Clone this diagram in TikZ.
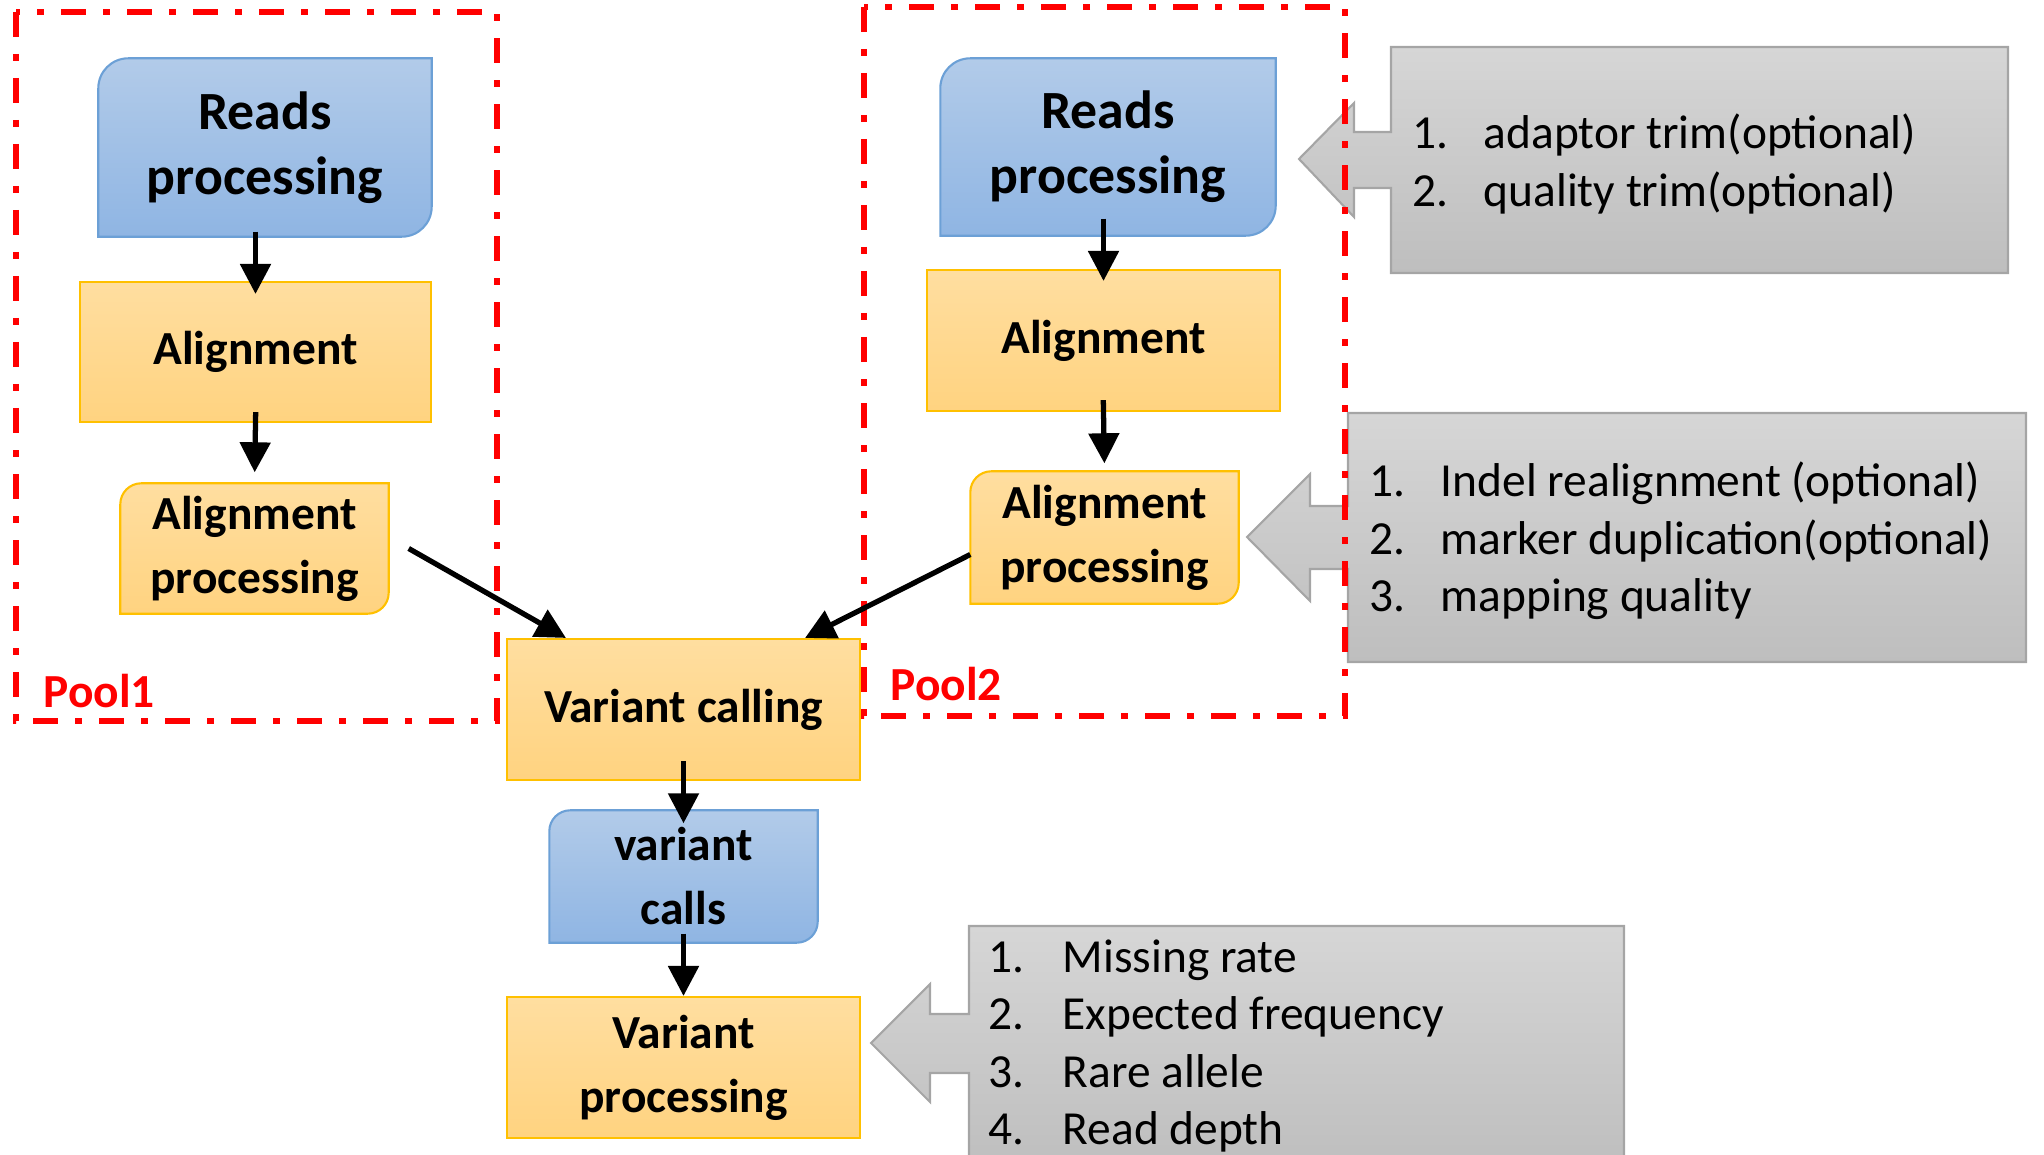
\documentclass[tikz,border=0pt]{standalone}
\usepackage{fontspec}
\setmainfont{Carlito}
\usetikzlibrary{arrows.meta, backgrounds}
\definecolor{poolred}{RGB}{255, 0, 0}
\definecolor{bluetop}{RGB}{178, 203, 233}
\definecolor{bluebot}{RGB}{143, 181, 227}
\definecolor{blueedge}{RGB}{108, 160, 214}
\definecolor{orangetop}{RGB}{255, 222, 160}
\definecolor{orangebot}{RGB}{255, 211, 128}
\definecolor{orangeedge}{RGB}{255, 192, 0}
\definecolor{graytop}{RGB}{214, 214, 214}
\definecolor{graybot}{RGB}{190, 190, 190}
\definecolor{grayedge}{RGB}{165, 165, 165}

% box with rounded top-left and bottom-right corners, drawn behind a node
\newcommand{\diagcorner}[3]{%
  \path[#2] ([xshift=#3]#1.north west) -- (#1.north east) -- ([yshift=#3]#1.south east)
    to[out=-90, in=0] ([xshift=-#3]#1.south east) -- (#1.south west) -- ([yshift=-#3]#1.north west)
    to[out=90, in=180] ([xshift=#3]#1.north west) -- cycle;}

\begin{document}
\begin{tikzpicture}[
  boxtext/.style={font=\fontsize{13.5}{18.2}\selectfont\bfseries, align=center, inner sep=0pt},
  bigtext/.style={boxtext, font=\fontsize{15.3}{18.4}\selectfont\bfseries},
  orangebox/.style={boxtext, draw=orangeedge, line width=0.6pt, top color=orangetop, bottom color=orangebot},
  diagnode/.style={boxtext},
  bluefill/.style={draw=blueedge, line width=0.6pt, top color=bluetop, bottom color=bluebot},
  orangefill/.style={draw=orangeedge, line width=0.6pt, top color=orangetop, bottom color=orangebot},
  notefill/.style={draw=grayedge, line width=0.6pt, top color=graytop, bottom color=graybot},
  note/.style={font=\fontsize{13.5}{16.4}\selectfont, align=left, anchor=west, inner sep=0pt},
  pool/.style={draw=poolred, line width=1.5pt, dash pattern=on 0.25cm off 0.17cm on 0.07cm off 0.17cm},
  poollabel/.style={text=poolred, font=\fontsize{13.5}{16}\selectfont\bfseries, anchor=west, inner sep=0pt},
  flow/.style={line width=1.5pt, -{Triangle[width=0.3cm, length=0.3cm]}}
]
  \clip (0,0) rectangle (20.44,-11.55);

  % callouts
  \path[notefill] (13.91,-0.47) -- (20.08,-0.47) -- (20.08,-2.73) -- (13.91,-2.73) -- (13.91,-1.88)
    -- (13.54,-1.88) -- (13.54,-2.17) -- (12.99,-1.59) -- (13.54,-1.03) -- (13.54,-1.32) -- (13.91,-1.32) -- cycle;
  \path[notefill] (13.48,-4.13) -- (20.26,-4.13) -- (20.26,-6.62) -- (13.48,-6.62) -- (13.48,-5.69)
    -- (13.10,-5.69) -- (13.10,-6.01) -- (12.47,-5.37) -- (13.10,-4.74) -- (13.10,-5.06) -- (13.48,-5.06) -- cycle;
  \path[notefill] (9.69,-9.26) -- (16.24,-9.26) -- (16.24,-11.70) -- (9.69,-11.70) -- (9.69,-10.73)
    -- (9.30,-10.73) -- (9.30,-11.02) -- (8.71,-10.43) -- (9.30,-9.84) -- (9.30,-10.14) -- (9.69,-10.14) -- cycle;

  \node[note] (trimnote) at (14.12,-1.64) {\makebox[0.71cm][l]{1.}adaptor trim(optional)\\
    \makebox[0.71cm][l]{2.}quality trim(optional)};
  \node[note] (alignnote) at (13.69,-5.41) {\makebox[0.71cm][l]{1.}Indel realignment (optional)\\
    \makebox[0.71cm][l]{2.}marker duplication(optional)\\
    \makebox[0.71cm][l]{3.}mapping quality};
  \node[note] (filternote) at (9.88,-10.46) {\makebox[0.74cm][l]{1.}Missing rate\\
    \makebox[0.74cm][l]{2.}Expected frequency\\
    \makebox[0.74cm][l]{3.}Rare allele\\
    \makebox[0.74cm][l]{4.}Read depth};

  % pool 1
  \node[diagnode, bigtext, minimum width=3.32cm, minimum height=1.77cm] (readsL) at (2.65,-1.475) {Reads\\processing};
  \node[orangebox, minimum width=3.51cm, minimum height=1.40cm] (alignL) at (2.555,-3.52) {Alignment};
  \node[diagnode, minimum width=2.67cm, minimum height=1.29cm] (alprocL) at (2.545,-5.485) {Alignment\\processing};

  % pool 2
  \node[diagnode, bigtext, minimum width=3.34cm, minimum height=1.76cm] (readsR) at (11.08,-1.47) {Reads\\processing};
  \node[orangebox, minimum width=3.53cm, minimum height=1.41cm] (alignR) at (11.035,-3.405) {Alignment};
  \node[diagnode, minimum width=2.67cm, minimum height=1.31cm] (alprocR) at (11.045,-5.375) {Alignment\\processing};

  % calling
  \node[orangebox, minimum width=3.53cm, minimum height=1.41cm] (vcall) at (6.835,-7.095) {Variant calling};
  \node[diagnode, minimum width=2.67cm, minimum height=1.31cm] (vcalls) at (6.835,-8.765) {variant\\calls};
  \node[orangebox, minimum width=3.53cm, minimum height=1.41cm] (vproc) at (6.835,-10.675) {Variant\\processing};

  \begin{scope}[on background layer]
    \diagcorner{readsL}{bluefill}{0.3cm}
    \diagcorner{alprocL}{orangefill}{0.21cm}
    \diagcorner{readsR}{bluefill}{0.3cm}
    \diagcorner{alprocR}{orangefill}{0.21cm}
    \diagcorner{vcalls}{bluefill}{0.21cm}
  \end{scope}

  % dash-dot pools
  \draw[pool] (0.16,-0.12) rectangle (4.97,-7.21);
  \draw[pool] (8.64,-0.07) rectangle (13.45,-7.16);
  \node[poollabel] (pool1) at (0.43,-6.91) {Pool1};
  \node[poollabel] (pool2) at (8.90,-6.84) {Pool2};

  % arrows
  \draw[flow, shorten <=-0.05cm, shorten >=-0.13cm] (readsL.south -| alignL.north) -- (alignL.north);
  \draw[flow, shorten <=-0.11cm, shorten >=0.11cm] (alignL.south) -- (alprocL.north);
  \draw[flow, shorten <=-0.17cm, shorten >=-0.12cm] (readsR.south -| alignR.north) -- (alignR.north);
  \draw[flow, shorten <=-0.12cm, shorten >=0.08cm] (alignR.south) -- (alprocR.north);
  \draw[flow] ([xshift=0.2cm]alprocL.east) -- ([xshift=0.6cm]vcall.north west);
  \draw[flow] ([yshift=-0.17cm]alprocR.west) -- ([xshift=-0.56cm]vcall.north east);
  \draw[flow, shorten <=-0.2cm, shorten >=-0.13cm] (vcall.south) -- (vcalls.north);
  \draw[flow, shorten <=-0.09cm] (vcalls.south) -- (vproc.north);
\end{tikzpicture}
\end{document}
